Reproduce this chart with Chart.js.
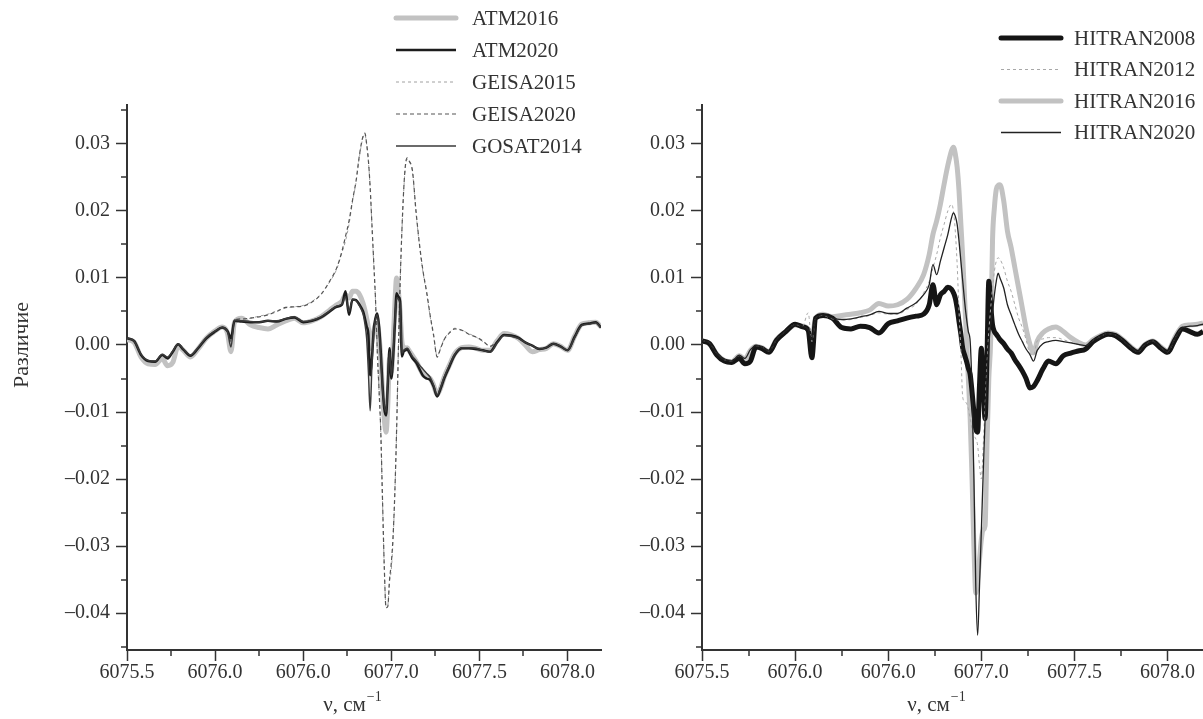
<!DOCTYPE html>
<html>
<head>
<meta charset="utf-8">
<script src="https://cdn.jsdelivr.net/npm/chart.js@4.4.1/dist/chart.umd.min.js"></script>
<style>
  html, body { margin: 0; padding: 0; background: #fff; }
  #wrap { position: relative; width: 1203px; height: 719px; overflow: hidden; }
  canvas { position: absolute; top: 0; }
  #left { left: 0; }
  #right { left: 603px; }
</style>
</head>
<body>
<div id="wrap">
  <canvas id="left" width="615" height="719"></canvas>
  <canvas id="right" width="600" height="719"></canvas>
</div>
<script>
// wavenumber grid, cm-1 (denser around the line centre)
const nu = [
  6075.50, 6075.54, 6075.58, 6075.62, 6075.66, 6075.70, 6075.73, 6075.76,
  6075.79, 6075.82, 6075.86, 6075.90, 6075.95, 6076.00, 6076.04, 6076.07,
  6076.09, 6076.11, 6076.15, 6076.20, 6076.25, 6076.30, 6076.35, 6076.40,
  6076.45, 6076.50, 6076.55, 6076.60, 6076.65, 6076.69, 6076.72, 6076.74,
  6076.76, 6076.78, 6076.80, 6076.82, 6076.84, 6076.85, 6076.86, 6076.87,
  6076.88, 6076.89, 6076.90, 6076.91, 6076.92, 6076.93, 6076.94, 6076.95,
  6076.96, 6076.97, 6076.98, 6076.99, 6077.00, 6077.01, 6077.02, 6077.03,
  6077.04, 6077.05, 6077.06, 6077.07, 6077.08, 6077.09, 6077.10, 6077.12,
  6077.14, 6077.16, 6077.18, 6077.20, 6077.22, 6077.24, 6077.26, 6077.28,
  6077.30, 6077.33, 6077.36, 6077.40, 6077.44, 6077.48, 6077.52, 6077.56,
  6077.60, 6077.64, 6077.68, 6077.72, 6077.76, 6077.80, 6077.84, 6077.88,
  6077.92, 6077.96, 6078.00, 6078.04, 6078.08, 6078.12, 6078.16, 6078.19
];

// left panel
const atm2016 = [
  0.0008, 0.0004, -0.0018, -0.0028, -0.0029, -0.0020, -0.0031, -0.0026,
  -0.0002, -0.0008, -0.0018, -0.0007, 0.0010, 0.0021, 0.0027, 0.0018,
  -0.0010, 0.0034, 0.0040, 0.0030, 0.0026, 0.0024, 0.0030, 0.0036,
  0.0040, 0.0033, 0.0036, 0.0042, 0.0052, 0.0060, 0.0065, 0.0075,
  0.0070, 0.0080, 0.0080, 0.0075, 0.0062, 0.0052, 0.0040, 0.0025,
  -0.0005, 0.0005, 0.0020, 0.0030, 0.0030, 0.0015, -0.0020, -0.0070,
  -0.0110, -0.0130, -0.0090, -0.0020, -0.0040, 0.0000, 0.0060, 0.0100,
  0.0080, 0.0050, 0.0005, -0.0003, -0.0005, -0.0004, -0.0008, -0.0016,
  -0.0024, -0.0034, -0.0044, -0.0048, -0.0050, -0.0060, -0.0074, -0.0064,
  -0.0048, -0.0030, -0.0013, -0.0004, -0.0003, -0.0005, -0.0008, -0.0008,
  0.0006, 0.0017, 0.0015, 0.0010, 0.0000, -0.0010, -0.0007, -0.0005,
  0.0002, -0.0002, -0.0008, 0.0013, 0.0031, 0.0033, 0.0034, 0.0027
];
const atm2020 = [
  0.0010, 0.0006, -0.0015, -0.0024, -0.0025, -0.0015, -0.0020, -0.0010,
  0.0001, -0.0007, -0.0016, -0.0006, 0.0010, 0.0020, 0.0026, 0.0021,
  0.0010, 0.0036, 0.0035, 0.0034, 0.0034, 0.0036, 0.0035, 0.0039,
  0.0041, 0.0034, 0.0036, 0.0041, 0.0050, 0.0057, 0.0060, 0.0080,
  0.0045, 0.0068, 0.0067, 0.0060, 0.0050, 0.0040, 0.0028, 0.0015,
  -0.0045, -0.0020, 0.0022, 0.0040, 0.0047, 0.0030, -0.0010, -0.0060,
  -0.0095, -0.0105, -0.0060, -0.0005, -0.0050, -0.0020, 0.0030, 0.0077,
  0.0072, 0.0065, -0.0017, -0.0010, -0.0008, -0.0006, -0.0010, -0.0020,
  -0.0026, -0.0036, -0.0046, -0.0050, -0.0052, -0.0062, -0.0077, -0.0065,
  -0.0050, -0.0032, -0.0015, -0.0005, -0.0005, -0.0006, -0.0008, -0.0010,
  0.0004, 0.0015, 0.0014, 0.0011, 0.0004, -0.0001, -0.0006, -0.0004,
  0.0002, -0.0002, -0.0008, 0.0012, 0.0030, 0.0032, 0.0034, 0.0026
];
const geisa2015 = [
  0.0010, 0.0006, -0.0015, -0.0024, -0.0025, -0.0015, -0.0019, -0.0010,
  0.0001, -0.0007, -0.0016, -0.0006, 0.0010, 0.0020, 0.0026, 0.0021,
  0.0006, 0.0036, 0.0038, 0.0040, 0.0043, 0.0046, 0.0051, 0.0055,
  0.0057, 0.0059, 0.0065, 0.0076, 0.0094, 0.0113, 0.0138, 0.0155,
  0.0180, 0.0214, 0.0243, 0.0283, 0.0310, 0.0314, 0.0299, 0.0274,
  0.0233, 0.0178, 0.0122, 0.0068, -0.0010, -0.0068, -0.0130, -0.0233,
  -0.0332, -0.0390, -0.0388, -0.0352, -0.0335, -0.0290, -0.0222, -0.0130,
  -0.0010, 0.0091, 0.0168, 0.0228, 0.0266, 0.0277, 0.0274, 0.0258,
  0.0198, 0.0148, 0.0108, 0.0078, 0.0043, 0.0013, -0.0016, -0.0004,
  0.0009, 0.0019, 0.0025, 0.0022, 0.0017, 0.0012, 0.0005, -0.0001,
  0.0004, 0.0015, 0.0014, 0.0011, 0.0004, -0.0001, -0.0006, -0.0004,
  0.0002, -0.0002, -0.0008, 0.0012, 0.0030, 0.0032, 0.0034, 0.0026
];
const geisa2020 = [
  0.0010, 0.0006, -0.0015, -0.0024, -0.0025, -0.0015, -0.0019, -0.0010,
  0.0001, -0.0007, -0.0016, -0.0006, 0.0010, 0.0020, 0.0026, 0.0021,
  0.0005, 0.0037, 0.0039, 0.0040, 0.0042, 0.0045, 0.0050, 0.0056,
  0.0057, 0.0058, 0.0064, 0.0075, 0.0095, 0.0115, 0.0140, 0.0162,
  0.0185, 0.0216, 0.0245, 0.0285, 0.0312, 0.0316, 0.0300, 0.0275,
  0.0235, 0.0180, 0.0125, 0.0070, -0.0007, -0.0065, -0.0127, -0.0230,
  -0.0330, -0.0392, -0.0390, -0.0350, -0.0325, -0.0285, -0.0220, -0.0127,
  -0.0008, 0.0093, 0.0170, 0.0230, 0.0268, 0.0279, 0.0275, 0.0260,
  0.0200, 0.0150, 0.0110, 0.0080, 0.0045, 0.0015, -0.0018, -0.0005,
  0.0008, 0.0018, 0.0024, 0.0022, 0.0016, 0.0012, 0.0006, -0.0002,
  0.0005, 0.0015, 0.0014, 0.0011, 0.0004, -0.0001, -0.0006, -0.0004,
  0.0002, -0.0002, -0.0008, 0.0012, 0.0030, 0.0032, 0.0034, 0.0026
];
const gosat2014 = [
  0.0010, 0.0006, -0.0014, -0.0023, -0.0024, -0.0014, -0.0018, -0.0009,
  0.0002, -0.0006, -0.0015, -0.0005, 0.0011, 0.0021, 0.0026, 0.0020,
  -0.0003, 0.0037, 0.0036, 0.0035, 0.0034, 0.0036, 0.0036, 0.0039,
  0.0042, 0.0035, 0.0037, 0.0042, 0.0051, 0.0058, 0.0061, 0.0072,
  0.0050, 0.0068, 0.0066, 0.0058, 0.0046, 0.0032, 0.0010, -0.0040,
  -0.0098, -0.0030, 0.0020, 0.0038, 0.0045, 0.0025, -0.0015, -0.0065,
  -0.0090, -0.0100, -0.0055, -0.0010, -0.0045, -0.0015, 0.0035, 0.0070,
  0.0068, 0.0060, -0.0012, -0.0008, -0.0006, -0.0005, -0.0008, -0.0017,
  -0.0023, -0.0030, -0.0036, -0.0042, -0.0048, -0.0060, -0.0075, -0.0063,
  -0.0048, -0.0030, -0.0014, -0.0004, -0.0004, -0.0005, -0.0008, -0.0011,
  0.0003, 0.0014, 0.0013, 0.0010, 0.0004, -0.0001, -0.0006, -0.0004,
  0.0002, -0.0002, -0.0008, 0.0011, 0.0029, 0.0031, 0.0033, 0.0026
];

// right panel
const hitran2008 = [
  0.0006, 0.0002, -0.0015, -0.0024, -0.0026, -0.0020, -0.0028, -0.0024,
  -0.0003, -0.0005, -0.0011, 0.0007, 0.0020, 0.0031, 0.0027, 0.0022,
  -0.0019, 0.0040, 0.0044, 0.0040, 0.0026, 0.0024, 0.0028, 0.0026,
  0.0018, 0.0032, 0.0036, 0.0040, 0.0043, 0.0046, 0.0060, 0.0090,
  0.0060, 0.0075, 0.0080, 0.0086, 0.0083, 0.0078, 0.0070, 0.0055,
  0.0035, 0.0016, -0.0005, -0.0015, -0.0024, -0.0035, -0.0044, -0.0070,
  -0.0100, -0.0125, -0.0130, -0.0060, -0.0005, -0.0060, -0.0110, -0.0020,
  0.0095, 0.0060, 0.0030, 0.0020, 0.0016, 0.0012, 0.0008, 0.0002,
  -0.0006, -0.0012, -0.0022, -0.0030, -0.0039, -0.0050, -0.0064, -0.0062,
  -0.0053, -0.0036, -0.0024, -0.0028, -0.0016, -0.0012, -0.0009, -0.0006,
  0.0005, 0.0012, 0.0016, 0.0014, 0.0006, -0.0004, -0.0011, 0.0000,
  0.0005, -0.0004, -0.0011, 0.0008, 0.0024, 0.0020, 0.0016, 0.0020
];
const hitran2012 = [
  0.0007, 0.0003, -0.0013, -0.0022, -0.0024, -0.0015, -0.0020, -0.0007,
  -0.0001, -0.0003, -0.0009, 0.0008, 0.0021, 0.0030, 0.0028, 0.0048,
  0.0005, 0.0040, 0.0044, 0.0039, 0.0037, 0.0038, 0.0041, 0.0044,
  0.0048, 0.0046, 0.0046, 0.0053, 0.0061, 0.0078, 0.0095, 0.0115,
  0.0135, 0.0160, 0.0180, 0.0200, 0.0210, 0.0200, 0.0170, 0.0120,
  0.0050, -0.0010, -0.0078, -0.0084, -0.0087, -0.0095, -0.0110, -0.0125,
  -0.0135, -0.0140, -0.0150, -0.0180, -0.0200, -0.0150, -0.0090, -0.0030,
  0.0020, 0.0055, 0.0085, 0.0110, 0.0125, 0.0130, 0.0128, 0.0115,
  0.0095, 0.0080, 0.0060, 0.0040, 0.0026, 0.0008, -0.0012, -0.0015,
  0.0006, 0.0009, 0.0011, 0.0011, 0.0008, 0.0004, 0.0001, -0.0001,
  0.0007, 0.0013, 0.0017, 0.0015, 0.0007, -0.0003, -0.0010, 0.0001,
  0.0006, -0.0003, -0.0010, 0.0010, 0.0026, 0.0028, 0.0029, 0.0031
];
const hitran2016 = [
  0.0006, 0.0002, -0.0014, -0.0023, -0.0025, -0.0016, -0.0021, -0.0008,
  -0.0002, -0.0004, -0.0010, 0.0008, 0.0020, 0.0030, 0.0028, 0.0024,
  0.0010, 0.0040, 0.0046, 0.0042, 0.0044, 0.0046, 0.0048, 0.0052,
  0.0062, 0.0058, 0.0060, 0.0068, 0.0085, 0.0105, 0.0135, 0.0165,
  0.0185, 0.0210, 0.0240, 0.0268, 0.0290, 0.0295, 0.0285, 0.0265,
  0.0230, 0.0180, 0.0130, 0.0070, 0.0010, -0.0050, -0.0110, -0.0200,
  -0.0300, -0.0370, -0.0350, -0.0320, -0.0290, -0.0276, -0.0270, -0.0150,
  -0.0050, 0.0007, 0.0157, 0.0205, 0.0232, 0.0238, 0.0239, 0.0215,
  0.0170, 0.0145, 0.0115, 0.0085, 0.0055, 0.0025, 0.0002, -0.0012,
  0.0006, 0.0018, 0.0024, 0.0027, 0.0020, 0.0011, 0.0004, 0.0000,
  0.0008, 0.0014, 0.0018, 0.0016, 0.0008, -0.0002, -0.0009, 0.0001,
  0.0006, -0.0002, -0.0009, 0.0012, 0.0028, 0.0030, 0.0031, 0.0033
];
const hitran2020 = [
  0.0007, 0.0003, -0.0013, -0.0022, -0.0024, -0.0015, -0.0020, -0.0007,
  -0.0001, -0.0003, -0.0009, 0.0008, 0.0021, 0.0030, 0.0028, 0.0023,
  0.0008, 0.0040, 0.0045, 0.0040, 0.0038, 0.0039, 0.0042, 0.0045,
  0.0050, 0.0047, 0.0047, 0.0055, 0.0063, 0.0075, 0.0090, 0.0120,
  0.0105, 0.0125, 0.0145, 0.0165, 0.0190, 0.0197, 0.0192, 0.0180,
  0.0155, 0.0125, 0.0095, 0.0065, 0.0040, 0.0020, 0.0005, -0.0070,
  -0.0200, -0.0360, -0.0433, -0.0360, -0.0276, -0.0190, -0.0110, -0.0050,
  0.0000, 0.0030, 0.0050, 0.0075, 0.0095, 0.0107, 0.0100, 0.0085,
  0.0060, 0.0045, 0.0030, 0.0016, 0.0005, -0.0006, -0.0014, -0.0024,
  -0.0008, 0.0002, 0.0005, 0.0007, 0.0005, 0.0003, 0.0001, -0.0001,
  0.0007, 0.0013, 0.0017, 0.0015, 0.0007, -0.0003, -0.0010, 0.0001,
  0.0006, -0.0003, -0.0010, 0.0010, 0.0026, 0.0028, 0.0029, 0.0031
];

// axes
const nuTicks = [6075.5, 6076.0, 6076.5, 6077.0, 6077.5, 6078.0];
const nuTickLabels = ["6075.5", "6076.0", "6076.0", "6077.0", "6077.5", "6078.0"];
const nuMinor = [6075.75, 6076.25, 6076.75, 6077.25, 6077.75];
const diffTicks = [-0.04, -0.03, -0.02, -0.01, 0, 0.01, 0.02, 0.03];
const diffTickLabels = ["\u20130.04", "\u20130.03", "\u20130.02", "\u20130.01", "0.00", "0.01", "0.02", "0.03"];
const diffMinor = [-0.045, -0.035, -0.025, -0.015, -0.005, 0.005, 0.015, 0.025, 0.035];

const SERIF = "'Liberation Serif', 'Times New Roman', serif";
const INK = "#333";

Chart.defaults.font.family = SERIF;
Chart.defaults.color = INK;

function series(label, values, style) {
  return Object.assign({
    label: label,
    data: nu.map((x, i) => ({ x: x, y: values[i] })),
    pointRadius: 0,
    fill: false,
    cubicInterpolationMode: "monotone",
    borderJoinStyle: "round",
    borderCapStyle: "butt"
  }, style);
}

// minor ticks, axis titles and the line legend
const decor = {
  id: "decor",
  afterDraw(chart, args, o) {
    const ctx = chart.ctx;
    const xs = chart.scales.x, ys = chart.scales.y;
    const a = chart.chartArea;
    ctx.save();
    ctx.strokeStyle = INK;
    ctx.lineWidth = 1.5;
    ctx.beginPath();
    diffMinor.forEach(v => {
      const py = Math.round(ys.getPixelForValue(v));
      ctx.moveTo(a.left - 6, py);
      ctx.lineTo(a.left, py);
    });
    nuMinor.forEach(v => {
      const px = Math.round(xs.getPixelForValue(v));
      ctx.moveTo(px, a.bottom);
      ctx.lineTo(px, a.bottom + 6);
    });
    ctx.stroke();

    ctx.fillStyle = INK;
    ctx.textBaseline = "middle";

    // x title with superscript
    ctx.font = "21px " + SERIF;
    const main = "\u03bd, \u0441\u043c";
    const wMain = ctx.measureText(main).width;
    ctx.font = "14px " + SERIF;
    const wSup = ctx.measureText("\u22121").width;
    const tx = o.xTitleX - (wMain + wSup) / 2;
    ctx.font = "21px " + SERIF;
    ctx.textAlign = "left";
    ctx.fillText(main, tx, o.xTitleY);
    ctx.font = "14px " + SERIF;
    ctx.fillText("\u22121", tx + wMain + 1, o.xTitleY - 8);

    if (o.yTitle) {
      ctx.save();
      ctx.translate(o.yTitle.x, o.yTitle.y);
      ctx.rotate(-Math.PI / 2);
      ctx.font = "22px " + SERIF;
      ctx.textAlign = "center";
      ctx.fillText(o.yTitle.text, 0, 0);
      ctx.restore();
    }

    const lg = o.legend;
    chart.data.datasets.forEach((ds, i) => {
      const ly = lg.y0 + i * lg.dy;
      ctx.save();
      ctx.strokeStyle = ds.borderColor;
      ctx.lineWidth = ds.borderWidth;
      ctx.setLineDash(ds.borderDash || []);
      ctx.lineCap = ds.borderWidth > 3 ? "round" : "butt";
      ctx.beginPath();
      ctx.moveTo(lg.x0, ly);
      ctx.lineTo(lg.x1, ly);
      ctx.stroke();
      ctx.restore();
      ctx.font = "21px " + SERIF;
      ctx.textAlign = "left";
      ctx.fillStyle = INK;
      ctx.fillText(ds.label, lg.tx, ly + 1);
    });
    ctx.restore();
  }
};

function panel(id, datasets, p) {
  const canvas = document.getElementById(id);
  return new Chart(canvas, {
    type: "line",
    data: { datasets: datasets },
    plugins: [decor],
    options: {
      responsive: false,
      animation: false,
      devicePixelRatio: 1,
      layout: { padding: { left: 0, top: 105, right: canvas.width - p.right, bottom: 0 } },
      plugins: {
        legend: { display: false },
        tooltip: { enabled: false },
        decor: p.decor
      },
      scales: {
        x: {
          type: "linear",
          min: 6075.5,
          max: 6078.19,
          afterBuildTicks: s => { s.ticks = nuTicks.map(v => ({ value: v })); },
          afterFit: s => { s.height = 69; },
          ticks: {
            callback: (v, i) => nuTickLabels[i],
            font: { size: 20 },
            color: INK,
            padding: 0,
            maxRotation: 0,
            autoSkip: false
          },
          grid: { drawOnChartArea: false, drawTicks: true, tickLength: 11, tickColor: INK, tickWidth: 1.5 },
          border: { display: true, color: INK, width: 2 }
        },
        y: {
          type: "linear",
          min: -0.0455,
          max: 0.0358,
          afterBuildTicks: s => { s.ticks = diffTicks.map(v => ({ value: v })); },
          afterFit: s => { s.width = p.left; },
          ticks: {
            callback: (v, i) => diffTickLabels[i],
            font: { size: 20 },
            color: INK,
            padding: 6
          },
          grid: { drawOnChartArea: false, drawTicks: true, tickLength: 11, tickColor: INK, tickWidth: 1.5 },
          border: { display: true, color: INK, width: 2 }
        }
      }
    }
  });
}

panel("left", [
  series("ATM2016", atm2016, { borderColor: "#c2c2c2", borderWidth: 5, order: 5 }),
  series("ATM2020", atm2020, { borderColor: "#1c1c1c", borderWidth: 2.5, order: 2 }),
  series("GEISA2015", geisa2015, { borderColor: "#a0a0a0", borderWidth: 1, borderDash: [3, 3], order: 4 }),
  series("GEISA2020", geisa2020, { borderColor: "#555", borderWidth: 1.2, borderDash: [4, 3], order: 3 }),
  series("GOSAT2014", gosat2014, { borderColor: "#3a3a3a", borderWidth: 1.5, order: 1 })
], {
  left: 127,
  right: 601,
  decor: {
    xTitleX: 352, xTitleY: 705,
    yTitle: { text: "\u0420\u0430\u0437\u043b\u0438\u0447\u0438\u0435", x: 22, y: 345 },
    legend: { x0: 396, x1: 456, tx: 472, y0: 18, dy: 32 }
  }
});

panel("right", [
  series("HITRAN2008", hitran2008, { borderColor: "#151515", borderWidth: 5, order: 3 }),
  series("HITRAN2012", hitran2012, { borderColor: "#a8a8a8", borderWidth: 1, borderDash: [3, 3], order: 2 }),
  series("HITRAN2016", hitran2016, { borderColor: "#c2c2c2", borderWidth: 5, order: 4 }),
  series("HITRAN2020", hitran2020, { borderColor: "#222", borderWidth: 1.3, order: 1 })
], {
  left: 99,
  right: 600,
  decor: {
    xTitleX: 333, xTitleY: 705,
    legend: { x0: 398, x1: 458, tx: 471, y0: 38, dy: 31.5 }
  }
});
</script>
</body>
</html>
